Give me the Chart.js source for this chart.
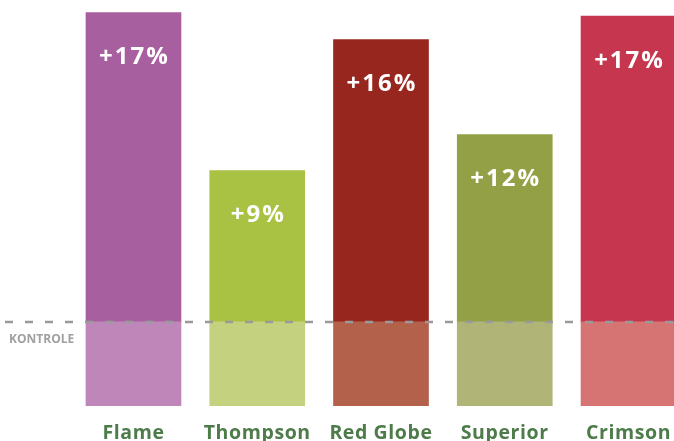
<!DOCTYPE html>
<html>
<head>
<meta charset="utf-8">
<script src="https://cdn.jsdelivr.net/npm/chart.js@4.4.1/dist/chart.umd.min.js"></script>
<style>
  html, body { margin: 0; padding: 0; overflow: hidden; background: #fff; }
  canvas { display: block; }
</style>
</head>
<body>
<canvas id="myChart" width="700" height="441"></canvas>
<script>
// varieties
const varieties = ["Flame", "Thompson", "Red Globe", "Superior", "Crimson"];
// control = 100 (index), gain drawn on top of it
const controlValues = [100, 100, 100, 100, 100];
const gainValues = [368, 180, 336, 223, 364];
const gainLabels = ["+17%", "+9%", "+16%", "+12%", "+17%"];

const darkColors = ["#a85f9f", "#a9c243", "#96261e", "#94a045", "#c6364e"];
const lightColors = ["#bf87b9", "#c4d17e", "#b3614b", "#b0b577", "#d57472"];

const ctx = document.getElementById("myChart");

const overlay = {
  id: "overlay",
  beforeDraw(chart) {
    chart.ctx.letterSpacing = "0.6px";
  },
  afterDatasetsDraw(chart) {
    const c = chart.ctx;
    const y = chart.scales.y.getPixelForValue(controlValues[0]);
    c.save();
    // dashed control line
    c.strokeStyle = "#9a9a9a";
    c.lineWidth = 2.5;
    c.setLineDash([8, 12]);
    c.beginPath();
    c.moveTo(5, y);
    c.lineTo(chart.width, y);
    c.stroke();
    c.setLineDash([]);

    c.fillStyle = "#a0a0a0";
    c.font = "bold 12px 'Open Sans'";
    c.letterSpacing = "0px";
    c.textBaseline = "middle";
    c.textAlign = "left";
    c.fillText("KONTROLE", 9, y + 18);

    // percentage labels
    const meta = chart.getDatasetMeta(1);
    c.fillStyle = "#ffffff";
    c.font = "bold 24px 'Open Sans'";
    c.letterSpacing = "2px";
    c.textAlign = "center";
    meta.data.forEach((bar, i) => {
      c.fillText(gainLabels[i], bar.x + 1, bar.y + 45);
    });
    c.restore();
    c.letterSpacing = "0.6px";
  }
};

const chart = new Chart(ctx, {
  type: "bar",
  data: {
    labels: varieties,
    datasets: [
      {
        label: "Kontrole",
        data: controlValues,
        backgroundColor: lightColors,
        borderWidth: 0,
        barThickness: 95,
      },
      {
        label: "Gain",
        data: gainValues,
        backgroundColor: darkColors,
        borderWidth: 0,
        barThickness: 95,
      },
    ],
  },
  options: {
    responsive: false,
    animation: false,
    devicePixelRatio: 1,
    layout: {
      padding: { left: 71.6, right: 9.6, top: 0, bottom: 0 },
    },
    plugins: {
      legend: { display: false },
      tooltip: { enabled: false },
    },
    scales: {
      x: {
        stacked: true,
        grid: { display: false, drawTicks: false },
        border: { display: false },
        afterFit(scale) {
          scale.height = 35;
        },
        ticks: {
          color: "#4e7b4a",
          padding: 16,
          font: { family: "'Open Sans'", size: 19.5, weight: "bold" },
        },
      },
      y: {
        stacked: true,
        display: false,
        min: 0,
        max: 483,
      },
    },
  },
  plugins: [overlay],
});
</script>
</body>
</html>
